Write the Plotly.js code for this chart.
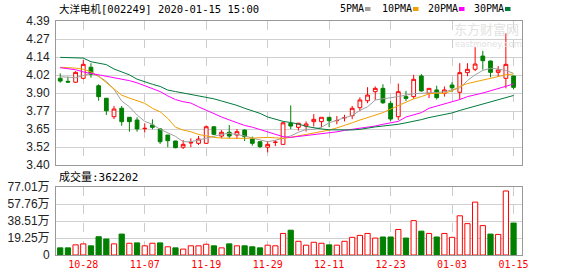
<!DOCTYPE html>
<html><head><meta charset="utf-8">
<script src="https://cdn.plot.ly/plotly-3.0.1.min.js"></script>
<style>html,body{margin:0;padding:0;background:#fff;}#chart{width:578px;height:276px;}</style>
</head><body><div id="chart"></div>
<script>
const dates = ['2019-10-23','2019-10-24','2019-10-25','2019-10-28','2019-10-29','2019-10-30','2019-10-31','2019-11-01','2019-11-04','2019-11-05','2019-11-06','2019-11-07','2019-11-08','2019-11-11','2019-11-12','2019-11-13','2019-11-14','2019-11-15','2019-11-18','2019-11-19','2019-11-20','2019-11-21','2019-11-22','2019-11-25','2019-11-26','2019-11-27','2019-11-28','2019-11-29','2019-12-02','2019-12-03','2019-12-04','2019-12-05','2019-12-06','2019-12-09','2019-12-10','2019-12-11','2019-12-12','2019-12-13','2019-12-16','2019-12-17','2019-12-18','2019-12-19','2019-12-20','2019-12-23','2019-12-24','2019-12-25','2019-12-26','2019-12-27','2019-12-30','2019-12-31','2020-01-02','2020-01-03','2020-01-06','2020-01-07','2020-01-08','2020-01-09','2020-01-10','2020-01-13','2020-01-14','2020-01-15'];
const openP  = [3.996,3.975,3.969,3.996,4.072,3.945,3.859,3.732,3.790,3.728,3.709,3.650,3.675,3.648,3.606,3.565,3.522,3.552,3.549,3.549,3.663,3.599,3.625,3.606,3.640,3.579,3.560,3.522,3.555,3.542,3.687,3.659,3.668,3.698,3.698,3.728,3.705,3.724,3.739,3.794,3.842,3.904,3.927,3.824,3.732,3.870,3.870,4.012,3.893,3.916,3.893,3.950,3.900,4.035,4.058,4.149,4.115,4.037,3.996,4.012];
const highP  = [4.030,4.007,4.045,4.122,4.100,3.955,3.860,3.806,3.806,3.730,3.728,3.687,3.714,3.652,3.606,3.566,3.572,3.583,3.600,3.672,3.665,3.640,3.675,3.647,3.645,3.595,3.562,3.565,3.570,3.695,3.810,3.690,3.700,3.750,3.728,3.730,3.737,3.745,3.806,3.865,3.935,3.940,3.955,3.840,3.960,3.910,4.020,4.025,3.928,3.945,3.940,3.970,4.100,4.100,4.210,4.185,4.117,4.080,4.305,4.013];
const lowP   = [3.966,3.966,3.965,3.989,4.000,3.842,3.744,3.716,3.670,3.629,3.629,3.625,3.645,3.545,3.522,3.515,3.510,3.522,3.537,3.545,3.606,3.583,3.583,3.580,3.565,3.533,3.516,3.487,3.530,3.540,3.647,3.636,3.630,3.665,3.659,3.660,3.680,3.700,3.715,3.770,3.825,3.846,3.820,3.700,3.710,3.840,3.855,3.905,3.860,3.850,3.870,3.900,3.850,4.010,4.045,4.055,4.003,4.010,3.927,3.920];
const closeP = [3.977,3.970,4.037,4.092,4.024,3.870,3.773,3.785,3.698,3.698,3.648,3.652,3.659,3.560,3.567,3.519,3.542,3.554,3.579,3.663,3.611,3.625,3.599,3.629,3.595,3.549,3.526,3.542,3.557,3.690,3.668,3.687,3.682,3.714,3.728,3.705,3.706,3.726,3.790,3.847,3.881,3.927,3.828,3.716,3.904,3.858,3.989,3.909,3.927,3.863,3.916,3.931,4.035,4.058,4.094,4.117,4.037,4.053,4.092,3.934];
const ma5  = [4.007,4.003,4.000,4.015,4.030,4.010,3.975,3.920,3.840,3.800,3.744,3.700,3.680,3.645,3.620,3.597,3.560,3.560,3.572,3.585,3.600,3.610,3.618,3.610,3.600,3.585,3.572,3.560,3.570,3.583,3.600,3.625,3.645,3.645,3.660,3.690,3.709,3.725,3.740,3.775,3.800,3.847,3.855,3.860,3.870,3.881,3.890,3.893,3.893,3.898,3.904,3.915,3.930,3.980,4.020,4.050,4.065,4.060,4.050,4.030];
const ma10 = [4.072,4.070,4.066,4.058,4.040,4.010,3.965,3.920,3.880,3.860,3.840,3.824,3.790,3.766,3.720,3.660,3.640,3.629,3.610,3.599,3.590,3.585,3.583,3.583,3.583,3.585,3.588,3.590,3.587,3.583,3.590,3.600,3.612,3.620,3.628,3.640,3.655,3.670,3.690,3.709,3.725,3.745,3.760,3.785,3.810,3.835,3.855,3.870,3.890,3.893,3.893,3.910,3.940,3.960,3.972,3.985,3.996,4.008,4.020,4.026];
const ma20 = [4.069,4.063,4.055,4.040,4.030,4.020,4.015,4.005,3.990,3.980,3.965,3.945,3.925,3.905,3.875,3.850,3.835,3.826,3.800,3.775,3.755,3.730,3.710,3.690,3.672,3.660,3.645,3.625,3.610,3.595,3.590,3.596,3.604,3.610,3.615,3.620,3.628,3.638,3.645,3.652,3.662,3.668,3.680,3.692,3.700,3.730,3.745,3.760,3.790,3.805,3.818,3.835,3.850,3.870,3.880,3.895,3.910,3.925,3.940,3.957];
const ma30 = [4.140,4.140,4.140,4.135,4.110,4.100,4.090,4.060,4.040,4.020,3.990,3.970,3.955,3.940,3.915,3.905,3.895,3.886,3.872,3.865,3.855,3.840,3.826,3.810,3.790,3.773,3.755,3.730,3.715,3.700,3.692,3.682,3.665,3.655,3.648,3.642,3.640,3.640,3.641,3.645,3.655,3.662,3.668,3.672,3.680,3.690,3.700,3.712,3.726,3.735,3.748,3.758,3.775,3.790,3.805,3.822,3.838,3.852,3.865,3.878];
const volume = [81000,81000,115000,126000,104000,207000,181000,126000,237000,133000,137000,104000,133000,137000,93000,81000,67000,104000,104000,122000,104000,81000,126000,104000,104000,93000,81000,111000,104000,244000,281000,155000,111000,144000,133000,115000,111000,155000,200000,222000,244000,192000,204000,204000,289000,192000,389000,270000,244000,204000,244000,200000,444000,355000,599000,333000,237000,233000,725000,362202];
const volUp = [0,0,1,1,0,0,0,1,0,1, 0,1,1,0,1,0,1,1,1,1, 0,1,0,1,0,0,0,1,1,1, 0,1,1,1,1,0,1,1,1,1, 1,1,0,0,1,0,1,0,1,0, 1,1,1,1,1,1,0,1,1,0];
const tickDates = ['10-28','11-07','11-19','11-29','12-11','12-23','01-03','01-15'];
const priceTickLabels = ['3.40','3.52','3.65','3.77','3.90','4.02','4.14','4.27','4.39'];
const volTickLabels = ['0','19.25万','38.51万','57.76万','77.01万'];
const maNames = ['5PMA','10PMA','20PMA','30PMA'];
const stockTitle = '大洋电机[002249] 2020-01-15 15:00';
const volLabel = '成交量';

const xs = dates.map((d,i)=>i);
const tickIdx = tickDates.map(t => dates.findIndex(d => d.slice(5) === t));
const pMin = parseFloat(priceTickLabels[0]), pMax = parseFloat(priceTickLabels[priceTickLabels.length-1]);
const priceTickVals = priceTickLabels.map((t,k)=> pMin + k*(pMax-pMin)/(priceTickLabels.length-1));
const vMax = parseFloat(volTickLabels[volTickLabels.length-1]) * 10000;
const volTickVals = volTickLabels.map((t,k)=> k*vMax/(volTickLabels.length-1));

const RED='#ff0000', GREEN='#008000';
const maColors = ['#a0a0a0','#f0a000','#ff00ff','#007a3d'];
const mono = 'DejaVu Sans Mono, Noto Sans CJK SC, sans-serif';

const traces = [
  {type:'candlestick', x:xs, open:openP, high:highP, low:lowP, close:closeP, xaxis:'x', yaxis:'y',
   increasing:{line:{color:RED,width:1}, fillcolor:'#ffffff'},
   decreasing:{line:{color:GREEN,width:1}, fillcolor:GREEN},
   whiskerwidth:0, hoverinfo:'skip', showlegend:false}
];
[ma5,ma10,ma20,ma30].forEach((arr,k)=>{
  traces.push({type:'scatter', mode:'lines', x:xs, y:arr, xaxis:'x', yaxis:'y',
    line:{color:maColors[k], width:1}, hoverinfo:'skip', showlegend:false});
});
traces.push({type:'bar', x:xs, y:volume, xaxis:'x', yaxis:'y2', width:0.68,
  marker:{color:volUp.map(u=>u?'#ffffff':GREEN), line:{color:volUp.map(u=>u?RED:GREEN), width:1}},
  hoverinfo:'skip', showlegend:false});

const L=56, R=522, T=21, B=255;
const px = v => (v-L)/(R-L);
const py = v => (B-v)/(B-T);

const annotations = [
  {text:stockTitle, x:px(57), y:py(9), xref:'paper', yref:'paper', xanchor:'left', yanchor:'middle', showarrow:false, font:{family:mono, size:10.5, color:'#000'}},
  {text:volLabel+':'+volume[volume.length-1], x:px(57), y:py(177), xref:'paper', yref:'paper', xanchor:'left', yanchor:'middle', showarrow:false, font:{family:mono, size:11, color:'#000'}},
  {text:'东方财富网', x:px(486), y:py(29), xref:'paper', yref:'paper', xanchor:'center', yanchor:'middle', showarrow:false, borderpad:0, font:{family:'Noto Sans CJK SC', size:13, color:'#e2e2e2'}},
  {text:'eastmoney.com', x:px(488), y:py(44), xref:'paper', yref:'paper', xanchor:'center', yanchor:'middle', showarrow:false, borderpad:0, font:{family:'DejaVu Sans', size:8.5, color:'#e2e2e2'}}
];
const legX = [338, 380, 426, 472];
const sqX = [365, 413, 459, 505];
const shapes = [];
maNames.forEach((n,k)=>{
  annotations.push({text:n, x:px(legX[k]), y:py(9), xref:'paper', yref:'paper', xanchor:'left', yanchor:'middle', showarrow:false, font:{family:mono, size:10, color:'#000'}});
  shapes.push({type:'rect', xref:'paper', yref:'paper', x0:px(sqX[k]), x1:px(sqX[k]+5.5), y0:py(11), y1:py(7), fillcolor:maColors[k], line:{width:0}});
});

const layout = {
  width:578, height:276, margin:{l:L, r:578-R, t:T, b:276-B},
  paper_bgcolor:'#fff', plot_bgcolor:'#fff', showlegend:false, bargap:0.3,
  xaxis:{range:[-0.55,60.1], tickvals:tickIdx, ticktext:tickDates, ticks:'', showgrid:true, gridcolor:'#cccccc', griddash:'dash', gridwidth:1,
    showline:true, linecolor:'#999', linewidth:1, mirror:'all', zeroline:false, anchor:'y2', rangeslider:{visible:false},
    tickfont:{family:mono, size:10, color:RED}, fixedrange:true},
  yaxis:{domain:[py(165),1], range:[pMin,pMax], tickvals:priceTickVals, ticktext:priceTickLabels, ticks:'', showgrid:true, gridcolor:'#d0d0d0',
    showline:true, linecolor:'#999', linewidth:1, mirror:true, zeroline:false, tickfont:{family:'Liberation Sans, Arial', size:12, color:'#222'}, ticklabelstandoff:3},
  yaxis2:{domain:[0,py(187)], range:[0,vMax], tickvals:volTickVals, ticktext:volTickLabels, ticks:'', showgrid:true, gridcolor:'#d0d0d0',
    showline:true, linecolor:'#999', linewidth:1, mirror:true, zeroline:false, tickfont:{family:'Liberation Sans, Noto Sans CJK SC', size:12, color:'#222'}, ticklabelstandoff:3},
  annotations, shapes
};
Plotly.newPlot('chart', traces, layout, {staticPlot:true, displayModeBar:false});
</script></body></html>
